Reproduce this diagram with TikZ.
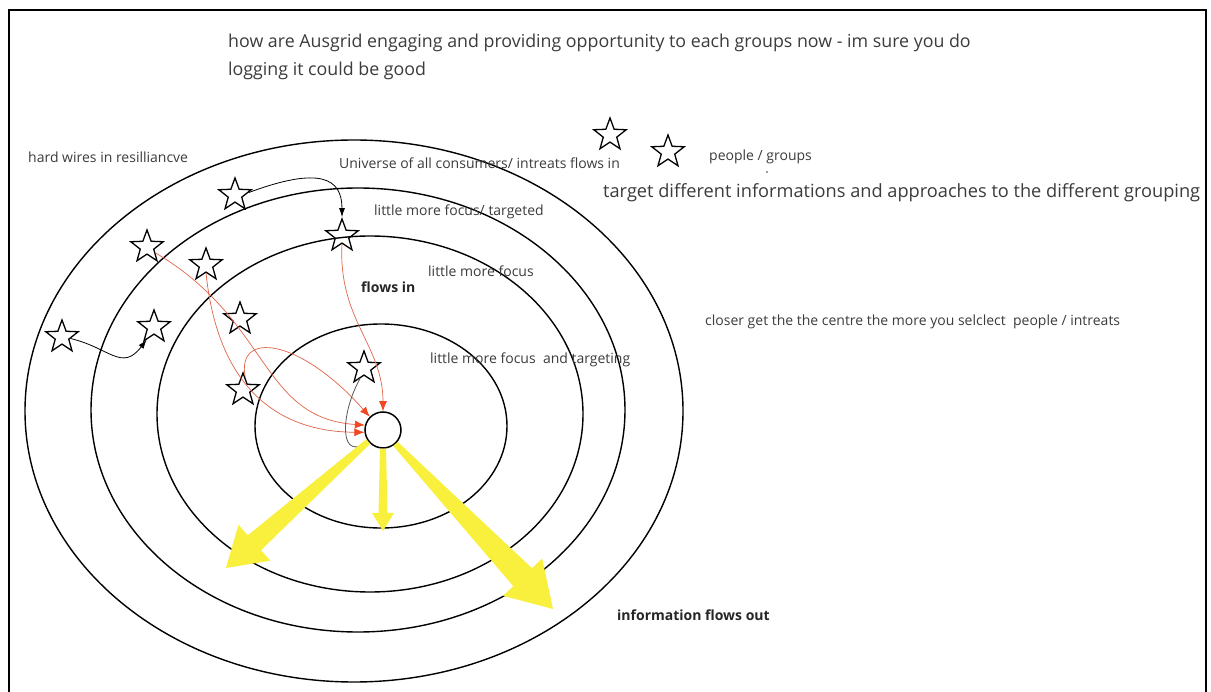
\documentclass[tikz,border=0pt]{standalone}
\usepackage{fontspec}
\setmainfont{Open Sans}
\usetikzlibrary{shapes.geometric,arrows.meta,calc}
\definecolor{redflow}{RGB}{226,100,72}
\definecolor{redhead}{RGB}{240,72,35}
\definecolor{yel}{RGB}{248,240,60}
\definecolor{txt}{RGB}{60,60,60}
\newcommand\yelarrow[6]{%
  \coordinate (hb) at ($(#2)!#6pt!(#1)$);
  \fill[yel] ($(#1)!#3pt!90:(#2)$) -- ($(hb)!#4pt!90:(#2)$) -- ($(hb)!#5pt!90:(#2)$) -- (#2)
    -- ($(hb)!#5pt!-90:(#2)$) -- ($(hb)!#4pt!-90:(#2)$) -- ($(#1)!#3pt!-90:(#2)$) -- cycle;}
\begin{document}
\begin{tikzpicture}[x=1pt,y=-1pt,
  ring/.style={draw=black,line width=1.4pt},
  person/.style={star,star points=5,star point ratio=2.4,draw=black,line width=1.3pt,minimum size=34pt,inner sep=0pt},
  lbl/.style={text=txt,font=\fontsize{14}{16}\selectfont,inner sep=0pt,anchor=west},
  big/.style={text=txt,font=\fontsize{17.8}{20}\selectfont,inner sep=0pt,anchor=west},
  bold/.style={text=black!85,font=\fontsize{14}{16}\selectfont\bfseries,inner sep=0pt,anchor=west},
  redarrow/.style={draw=redflow,line width=0.7pt,-{Latex[length=10pt,width=8pt,color=redhead]}},
  blackarrow/.style={draw=black,line width=0.8pt,-{Latex[length=9pt,width=6pt]}},
  grayarrow/.style={draw=black!65,line width=0.8pt,-{Latex[length=6pt,width=4pt,color=black]}},
]
\useasboundingbox (0,0) rectangle (1211,692);
\fill[white] (0,0) rectangle (1211,692);
\draw[line width=1.8pt] (9,740) -- (9,10) -- (1206,10) -- (1206,740);

% rings
\draw[ring] (354,411) ellipse [x radius=329, y radius=271];
\draw[ring] (358,410) ellipse [x radius=267, y radius=222];
\draw[ring] (370,414) ellipse [x radius=213, y radius=178];
\draw[ring] (381,426) ellipse [x radius=126, y radius=102];

% centre
\node[circle,draw=black,line width=1.5pt,minimum size=36pt,inner sep=0pt] (c) at (383,430) {};

% people
\node[person] (s1) at (235,195) {};
\node[person] (s2) at (342,236) {};
\node[person] (s3) at (147,247) {};
\node[person] (s4) at (206,265) {};
\node[person] (s5) at (240,319) {};
\node[person] (s6) at (154,327) {};
\node[person] (s7) at (62,337) {};
\node[person] (s8) at (243,390) {};
\node[person] (s9) at (364,368) {};
\node[person] (l1) at (610,135) {};
\node[person] (l2) at (668,152) {};

% black connectors
\draw[blackarrow] (s1.10) .. controls (320,166) and (342,178) .. (s2.north);
\draw[blackarrow] (s7.-10) .. controls (110,348) and (122,372) .. (s6.240);

% red connectors
\draw[redarrow] (s2.south) .. controls (338,320) and (383,345) .. (c.north);
\draw[redarrow] (s3.-35) .. controls (270,320) and (260,418) .. (c.165);
\draw[redarrow] (s4.-90) .. controls (218,390) and (280,432) .. (c.187);
\draw[redarrow] (s8.80) .. controls (236,330) and (300,338) .. (c.135);

% grey connector
\draw[grayarrow] (s9.250) .. controls (342,410) and (338,458) .. (c.220);

% yellow outflows
\coordinate (yl) at (226,568);
\coordinate (ym) at (383,531);
\coordinate (yr) at (553,609);
\yelarrow{c.218}{yl}{3}{10}{24}{38}
\yelarrow{c.south}{ym}{3}{4.5}{11}{18}
\yelarrow{c.-48}{yr}{3}{13}{27}{44}

% texts
\node[big] (t1) at (228,43) {how are Ausgrid engaging and providing opportunity to each groups now - im sure you do};
\node[big] (t2) at (228,71) {logging it could be good};
\node[lbl] (hw) at (28,157) {hard wires in resilliancve};
\node[lbl] (uni) at (339,163) {Universe of all consumers/ intreats flows in};
\node[lbl] (lm1) at (374,212) {little more focus/ targeted};
\node[lbl] (lm2) at (428,271) {little more focus};
\node[bold] (fi) at (361,287) {flows in};
\node[lbl] (lm3) at (430,360) {little more focus~ and targeting};
\node[lbl] (cl) at (705,322) {closer get the the centre the more you selclect~ people / intreats};
\node[lbl] (pg) at (709,157) {people / groups};
\fill[txt] (767,172) circle (0.8);
\node[big,font=\fontsize{18.2}{20}\selectfont] (tg) at (603,193) {target different informations and approaches to the different grouping};
\node[bold] (ifo) at (617,615) {information flows out};
\end{tikzpicture}
\end{document}
